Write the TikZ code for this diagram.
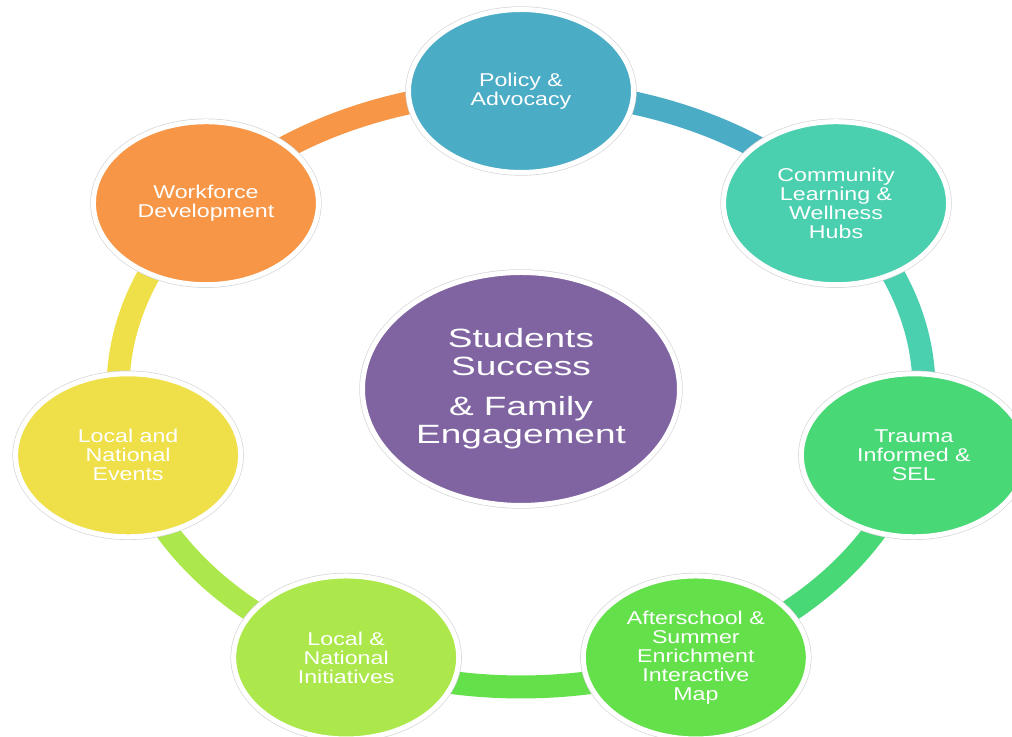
\documentclass[tikz,border=0pt]{standalone}
\usepackage{fontspec}
\setmainfont{Liberation Sans}
\newfontfamily\ringfont{Liberation Sans}[FakeStretch=1.25]
\newfontfamily\hubfont{Liberation Sans}[FakeStretch=1.4]
\usepackage{xcolor}
\usetikzlibrary{shapes.geometric,backgrounds}
\definecolor{cpolicy}{HTML}{4BACC6}
\definecolor{ccommunity}{HTML}{4ACFAF}
\definecolor{ctrauma}{HTML}{48D876}
\definecolor{cafter}{HTML}{63E04A}
\definecolor{cinit}{HTML}{ACE84B}
\definecolor{cevents}{HTML}{EFE04A}
\definecolor{cwork}{HTML}{F79646}
\definecolor{chub}{HTML}{8064A2}
\tikzset{
  bubble/.style={ellipse, fill=#1, draw=white, line width=0.125cm,
    preaction={draw=black!16, line width=0.16cm},
    inner sep=0pt, minimum width=5.625cm, minimum height=4.075cm,
    text=white, align=center, font=\ringfont\fontsize{13.2}{13.5}\selectfont},
  band/.style={draw=#1, line width=0.575cm}
}

\begin{document}
\begin{tikzpicture}
        \useasboundingbox (0,0) rectangle (25.3,18.425);
        \clip (0,0) rectangle (25.3,18.425);
        \coordinate (ring) at (13.025,8.7);
        % centro
        \node[bubble=chub, minimum width=7.925cm, minimum height=5.825cm,
          font=\hubfont\fontsize{18.8}{19.9}\selectfont] (hub) at (ring)
          {Students\\Success\\[8.5pt]\& Family\\Engagement};
        % circulos
        \path (ring) ++(90:10.075 and 7.45) node[bubble=cpolicy] (policy) {Policy \&\\Advocacy};
        \path (ring) ++(38.571:10.075 and 7.45) node[bubble=ccommunity] (community) {Community\\Learning \&\\Wellness\\Hubs};
        \path (ring) ++(-12.857:10.075 and 7.45) node[bubble=ctrauma] (trauma) {Trauma\\Informed \&\\SEL};
        \path (ring) ++(-64.286:10.075 and 7.45) node[bubble=cafter] (after) {Afterschool \&\\Summer\\Enrichment\\Interactive\\Map};
        \path (ring) ++(-115.714:10.075 and 7.45) node[bubble=cinit] (init) {Local \&\\National\\Initiatives};
        \path (ring) ++(-167.143:10.075 and 7.45) node[bubble=cevents] (events) {Local and\\National\\Events};
        \path (ring) ++(141.429:10.075 and 7.45) node[bubble=cwork] (work) {Workforce\\Development};
        % anillo
        \begin{scope}[on background layer]
        \foreach \from/\a/\b/\c in {policy/90/38.571/cpolicy, community/38.571/-12.857/ccommunity,
          trauma/-12.857/-64.286/ctrauma, after/-64.286/-115.714/cafter,
          init/-115.714/-167.143/cinit, events/-167.143/-218.571/cevents, work/141.429/90/cwork}
        \draw[band=\c] (\from.center) arc[start angle=\a, end angle=\b, x radius=10.075, y radius=7.45];
        \end{scope}
\end{tikzpicture}
\end{document}
